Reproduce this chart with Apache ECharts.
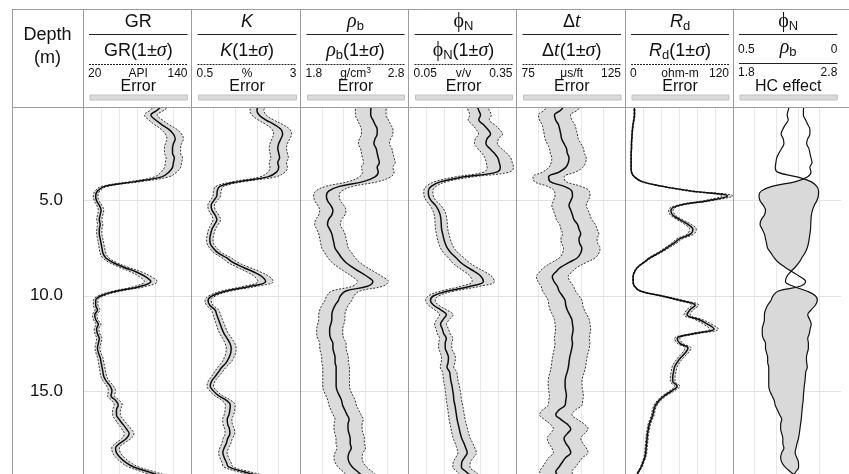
<!DOCTYPE html>
<html>
<head>
<meta charset="utf-8">
<title>Well log with uncertainty</title>
<script src="https://cdn.jsdelivr.net/npm/echarts@6/dist/echarts.min.js"></script>
<style>
html,body{margin:0;padding:0;background:#fff;}
#chart{width:849px;height:474px;}
</style>
</head>
<body>
<div id="chart"></div>
<script>
// ---------------- DATA ----------------
const depth = [
  0,0.25,0.5,0.75, 1,1.25,1.5,1.75, 2,2.25,2.5,2.75, 3,3.25,3.5,3.75,
  4,4.25,4.5,4.75, 5,5.25,5.5,5.75, 6,6.25,6.5,6.75, 7,7.25,7.5,7.75,
  8,8.25,8.5,8.75, 9,9.25,9.5,9.75, 10,10.25,10.5,10.75, 11,11.25,11.5,11.75,
  12,12.25,12.5,12.75, 13,13.25,13.5,13.75, 14,14.25,14.5,14.75, 15,15.25,15.5,15.75,
  16,16.25,16.5,16.75, 17,17.25,17.5,17.75, 18,18.25,18.5,18.75, 19,19.25,19.5
];
const gr = [
  107,102,95,100, 107,115,120,122, 120,119,119,121, 120,119,115,107,
  78,44,36,34, 35,38,40,39, 38,39,38,38, 39,40,41,42,
  45,53,65,79, 89,95,84,58, 40,34,34,36, 33,34,37,35,
  36,38,37,36, 37,39,40,41, 42,43,46,50, 52,51,56,59,
  57,57,60,64, 68,71,68,61, 56,57,61,67, 76,92,108
];
const kPct = [
  2.05,2.0,2.05,2.2, 2.4,2.55,2.59,2.55, 2.5,2.48,2.5,2.52, 2.48,2.5,2.45,2.25,
  1.58,1.15,1.09,1.08, 1.01,0.95,0.97,1.04, 1.08,1.03,0.97,0.94, 0.92,0.93,1.0,1.11,
  1.3,1.45,1.68,1.93, 2.12,2.2,1.85,1.3, 0.98,0.88,0.92,1.04, 1.08,1.12,1.16,1.2,
  1.25,1.32,1.38,1.41, 1.4,1.36,1.3,1.2, 1.12,1.04,0.96,0.93, 1.0,1.12,1.3,1.39,
  1.38,1.36,1.32,1.33, 1.37,1.38,1.33,1.3, 1.25,1.22,1.25,1.3, 1.35,1.7,2.1
];
const rhob = [
  2.46,2.45,2.45,2.47, 2.49,2.51,2.51,2.49, 2.48,2.5,2.51,2.52, 2.53,2.51,2.52,2.49,
  2.38,2.16,2.06,2.04, 2.05,2.08,2.1,2.09, 2.06,2.05,2.07,2.09, 2.1,2.11,2.12,2.15,
  2.18,2.22,2.28,2.35, 2.42,2.47,2.42,2.22, 2.17,2.15,2.12,2.1, 2.09,2.09,2.08,2.07,
  2.07,2.08,2.1,2.1, 2.11,2.12,2.12,2.13, 2.13,2.13,2.13,2.13, 2.14,2.16,2.18,2.19,
  2.21,2.23,2.25,2.24, 2.24,2.25,2.26,2.26, 2.27,2.25,2.24,2.25, 2.28,2.33,2.38
];
const phin = [
  0.24,0.245,0.25,0.245, 0.258,0.27,0.278,0.268, 0.265,0.275,0.288,0.298, 0.302,0.305,0.295,0.205,
  0.14,0.113,0.105,0.106, 0.113,0.125,0.133,0.138, 0.14,0.141,0.142,0.145, 0.148,0.152,0.158,0.168,
  0.182,0.195,0.213,0.235, 0.252,0.258,0.222,0.16, 0.12,0.111,0.12,0.14, 0.155,0.146,0.139,0.144,
  0.148,0.155,0.152,0.152, 0.157,0.161,0.16,0.157, 0.164,0.166,0.168,0.171, 0.173,0.175,0.176,0.179,
  0.181,0.183,0.185,0.188, 0.191,0.194,0.198,0.204, 0.209,0.213,0.206,0.198, 0.197,0.21,0.225
];
const dtSonic = [
  97,95.4,92.5,93, 94.3,94.9,95.4,95.8, 96.9,98,98.4,99.2, 98.9,97.7,94.6,89.8,
  90.5,97,100.5,100.8, 100,99.2,100,100.8, 101.5,103.1,103.8,104.6, 103.8,104.1,105.1,104.6,
  103.1,99.2,95.4,93.1, 91.5,92.3,93.8,94.6, 96.1,97.4,97.7,98.4, 99.5,100.5,100.8,101.1,
  100.8,100.5,100.8,100.5, 100,99.5,99.2,98.9, 98.4,97.7,97.4,97.4, 97.7,98,97.7,97.4,
  94.6,93.1,95.4,98.4, 100,98.4,96.9,97.7, 99.2,100,97.7,96.1, 94.6,93.1,94.6
];
const rdRes = [
  10,10.5,10.5,9.8, 9,8.3,7.9,7.6, 7.2,7.2,6.8,6.8, 6.8,6.8,7.2,10.5,
  19,42,74,114, 92,60,51,53, 61,70,75.5,73, 61,54,46,37.5,
  28,21,14,10.5, 9,9,10.5,17, 40,62,78,72, 69,82,92,99,
  76,58,61,70, 67,62,58,55, 54,53,53,58, 52,44,38,34,
  32,31,29,27, 26,25,24.5,24, 23.5,23,22,20, 18,15,12
];
// relative 1-sigma of each log
const sigmaGr = 0.075, sigmaK = 0.08, sigmaRho = 0.058, sigmaPhi = 0.12, sigmaDt = 0.08, sigmaRd = 0.05;

// axis ticks (grid lines) and header labels
const depthTicks = [5, 10, 15];
const grTicks = [40, 60, 80, 100, 120];
const kTicks = [1, 1.5, 2, 2.5];
const rhoTicks = [2.0, 2.2, 2.4, 2.6];
const phiTicks = [0.1, 0.15, 0.2, 0.25, 0.3];
const dtTicks = [85, 95, 105, 115];
const rdTicks = [20, 40, 60, 80, 100];
const scaleLeft  = ['20', '0.5', '1.8', '0.05', '75', '0'];
const scaleRight = ['140', '3', '2.8', '0.35', '125', '120'];
const unitLabels = ['{u|API}', '{u|%}', '{u|g/cm}{sup|3}', '{u|v/v}', '{u|μs/ft}', '{u|ohm-m}'];
const titleLabels = ['{n|GR}', '{i|K}', '{g|ρ}{s|b}', '{f|ϕ}{s|N}', '{n|Δ}{g|t}', '{i|R}{s|d}'];
const subLabels = [
  '{n|GR(1±}{g|σ}{n|)}', '{i|K}{n|(1±}{g|σ}{n|)}', '{g|ρ}{s|b}{n|(1±}{g|σ}{n|)}',
  '{f|ϕ}{s|N}{n|(1±}{g|σ}{n|)}', '{n|Δ}{g|t}{n|(1±}{g|σ}{n|)}', '{i|R}{s|d}{n|(1±}{g|σ}{n|)}'
];

// ---------------- LAYOUT / STYLE ----------------
const FONT = '"Liberation Sans", Arial, Helvetica, sans-serif';
const SERIF = '"Liberation Serif", "DejaVu Serif", serif';
const TRACK_X = [83, 191.5, 300.5, 408.5, 516.5, 625, 733, 841.3];
const GRID_TOP = 108, GRID_H = 366;
const D_MIN = 0.13, D_MAX = 19.37;
const SM = 0.4;

const chart = echarts.init(document.getElementById('chart'), null, {renderer: 'canvas'});

const logTracks = [
  {vals: gr, sig: sigmaGr, min: 20, max: 140, ticks: grTicks},
  {vals: kPct, sig: sigmaK, min: 0.5, max: 3, ticks: kTicks},
  {vals: rhob, sig: sigmaRho, min: 1.8, max: 2.8, ticks: rhoTicks},
  {vals: phin, sig: sigmaPhi, min: 0.05, max: 0.35, ticks: phiTicks},
  {vals: dtSonic, sig: sigmaDt, min: 75, max: 125, ticks: dtTicks},
  {vals: rdRes, sig: sigmaRd, min: 0, max: 120, ticks: rdTicks}
];

const grids = [], xAxes = [], yAxes = [], series = [];
for (let i = 0; i < 7; i++) {
  grids.push({left: TRACK_X[i], top: GRID_TOP, width: TRACK_X[i + 1] - TRACK_X[i], height: GRID_H,
    containLabel: false, outerBoundsMode: 'none', show: false});
  yAxes.push({gridIndex: i, type: 'value', inverse: true, min: D_MIN, max: D_MAX,
    axisLine: {show: false}, axisTick: {show: false, customValues: depthTicks},
    axisLabel: {show: i === 0, customValues: depthTicks, formatter: v => Number(v).toFixed(1),
      margin: 20, fontSize: 17, color: '#111', fontFamily: FONT},
    splitLine: {show: true, lineStyle: {color: '#e3e3e3', width: 1}}});
}
function xAxisDef(gi, min, max, ticks, showSplit, inverse) {
  return {gridIndex: gi, type: 'value', min, max, inverse: !!inverse,
    axisLine: {show: false}, axisTick: {show: false, customValues: ticks},
    axisLabel: {show: false, customValues: ticks},
    splitLine: {show: showSplit, lineStyle: {color: '#e8e8e8', width: 1}}};
}
logTracks.forEach((t, i) => xAxes.push(xAxisDef(i, t.min, t.max, t.ticks, true)));
xAxes.push(xAxisDef(6, 1.8, 2.8, rhoTicks, true));        // index 6: rho_b in HC track
xAxes.push(xAxisDef(6, 0, 0.5, [0.1, 0.2, 0.3, 0.4], false, true)); // index 7: phi_N reversed

const mainStyle = {color: '#0d0d0d', width: 1.5};
const dashStyle = {color: '#363636', width: 1, type: [2, 1.5]};
function lineSeries(xi, yi, data, style, z) {
  return {type: 'line', xAxisIndex: xi, yAxisIndex: yi, data, symbol: 'none', showSymbol: false,
    smooth: SM, lineStyle: style, silent: true, z, animation: false, clip: true};
}

logTracks.forEach((t, i) => {
  const lo = t.vals.map((v, j) => [v * (1 - t.sig), depth[j]]);
  const hi = t.vals.map((v, j) => [v * (1 + t.sig), depth[j]]);
  const mid = t.vals.map((v, j) => [v, depth[j]]);
  series.push({type: 'custom', xAxisIndex: i, yAxisIndex: i, clip: true, silent: true, z: 1,
    animation: false, data: [[t.min, D_MIN]],
    renderItem: (params, api) => {
      const pts = hi.map(p => api.coord(p)).concat(lo.slice().reverse().map(p => api.coord(p)));
      return {type: 'polygon', shape: {points: pts, smooth: SM}, style: {fill: '#dbdbdb'}};
    }});
  series.push(lineSeries(i, i, lo, dashStyle, 2));
  series.push(lineSeries(i, i, hi, dashStyle, 2));
  series.push(lineSeries(i, i, mid, mainStyle, 3));
});

// HC effect: fill where rho_b curve lies left of phi_N curve
function phiPixel(v, params) {
  let px = null;
  try { px = chart.convertToPixel({xAxisIndex: 7}, v); } catch (e) { px = null; }
  if (typeof px !== 'number' || !isFinite(px)) {
    const cs = params.coordSys;
    px = cs.x + (0.5 - v) / 0.5 * cs.width;
  }
  return px;
}
series.push({type: 'custom', xAxisIndex: 6, yAxisIndex: 6, clip: true, silent: true, z: 1,
  animation: false, data: [[2, 1]],
  renderItem: (params, api) => {
    const n = depth.length, A = [], B = [];
    for (let j = 0; j < n; j++) {
      const p = api.coord([rhob[j], depth[j]]);
      A.push(p);
      B.push([phiPixel(phin[j], params), p[1]]);
    }
    const children = [];
    let cur = null;
    const cross = (j, d0, d1) => {
      const t = d0 / (d0 - d1);
      return [A[j - 1][0] + t * (A[j][0] - A[j - 1][0]), A[j - 1][1] + t * (A[j][1] - A[j - 1][1])];
    };
    const close = () => {
      const pts = cur.left.concat(cur.right.reverse());
      children.push({type: 'polygon', shape: {points: pts, smooth: SM}, style: {fill: '#d9d9d9'}});
    };
    for (let j = 0; j < n; j++) {
      const diff = B[j][0] - A[j][0];
      if (diff > 0) {
        if (!cur) {
          cur = {left: [], right: []};
          if (j > 0) cur.left.push(cross(j, B[j - 1][0] - A[j - 1][0], diff));
        }
        cur.left.push(A[j]);
        cur.right.push(B[j]);
      } else if (cur) {
        cur.left.push(cross(j, B[j - 1][0] - A[j - 1][0], diff));
        close();
        cur = null;
      }
    }
    if (cur) close();
    return {type: 'group', children};
  }});
const hcStyle = {color: '#111', width: 1.2};
series.push(lineSeries(6, 6, rhob.map((v, j) => [v, depth[j]]), hcStyle, 3));
series.push(lineSeries(7, 6, phin.map((v, j) => [v, depth[j]]), hcStyle, 3));

// ---------------- HEADER GRAPHICS ----------------
const RICH = {
  n: {fontFamily: FONT, fontSize: 18, lineHeight: 22},
  i: {fontFamily: FONT, fontStyle: 'italic', fontSize: 18, lineHeight: 22},
  g: {fontFamily: SERIF, fontStyle: 'italic', fontSize: 20, lineHeight: 22},
  f: {fontFamily: SERIF, fontSize: 20, lineHeight: 22},
  s: {fontFamily: FONT, fontSize: 13, lineHeight: 12, verticalAlign: 'bottom'},
  u: {fontFamily: FONT, fontSize: 12, lineHeight: 14},
  sup: {fontFamily: FONT, fontSize: 8.5, lineHeight: 6, verticalAlign: 'top'}
};
const FRAME = '#9c9c9c';
const G = [];
function gLine(x1, y1, x2, y2, stroke, dash, w) {
  G.push({type: 'line', silent: true, z: 50, shape: {x1, y1, x2, y2},
    style: {stroke, lineWidth: w || 1, lineDash: dash || null}});
}
function gText(x, y, text, o) {
  G.push({type: 'text', silent: true, z: 50, x, y,
    style: Object.assign({text, fill: '#111', fontFamily: FONT, fontSize: 18,
      align: 'center', verticalAlign: 'middle', rich: RICH}, o || {})});
}
// frame
gLine(12, 9.5, 849, 9.5, FRAME);
gLine(12, 107.5, 849, 107.5, FRAME);
[12].concat(TRACK_X.slice(0, 7)).forEach(x => {
  const xx = Math.floor(x) + 0.5;
  gLine(xx, 9.5, xx, 474, FRAME);
});
gText(47.5, 35, 'Depth');
gText(47.5, 58, '(m)');

for (let i = 0; i < 7; i++) {
  const L = TRACK_X[i], R = TRACK_X[i + 1], C = (L + R) / 2 + 1;
  const x1 = L + 6, x2 = R - 4;
  G.push({type: 'rect', silent: true, z: 50, shape: {x: L + 7, y: 95, width: R - 4 - (L + 7), height: 5},
    style: {fill: '#dadada', stroke: '#c2c2c2', lineWidth: 1}});
  gLine(x1, 34.5, x2, 34.5, '#222');
  if (i < 6) {
    gText(C, 22, titleLabels[i]);
    gText(C, 51, subLabels[i]);
    gLine(x1, 64.5, x2, 64.5, '#222', [2, 1]);
    gText(L + 5, 73.5, scaleLeft[i], {align: 'left', fontSize: 12});
    gText(x2, 73.5, scaleRight[i], {align: 'right', fontSize: 12});
    gText(C, 73.5, unitLabels[i], {fontSize: 12});
    gText(C, 86.5, 'Error', {fontSize: 16});
  } else {
    gText(C, 22, '{f|ϕ}{s|N}');
    gText(L + 5, 50, '0.5', {align: 'left', fontSize: 12});
    gText(C, 48, '{g|ρ}{s|b}');
    gText(x2, 50, '0', {align: 'right', fontSize: 12});
    gLine(x1, 63.5, x2, 63.5, '#222');
    gText(L + 5, 72.5, '1.8', {align: 'left', fontSize: 12});
    gText(x2, 72.5, '2.8', {align: 'right', fontSize: 12});
    gText(C, 86.5, 'HC effect', {fontSize: 16});
  }
}

chart.setOption({
  animation: false,
  backgroundColor: '#ffffff',
  grid: grids,
  xAxis: xAxes,
  yAxis: yAxes,
  series: series,
  graphic: {elements: G}
});
</script>
</body>
</html>
